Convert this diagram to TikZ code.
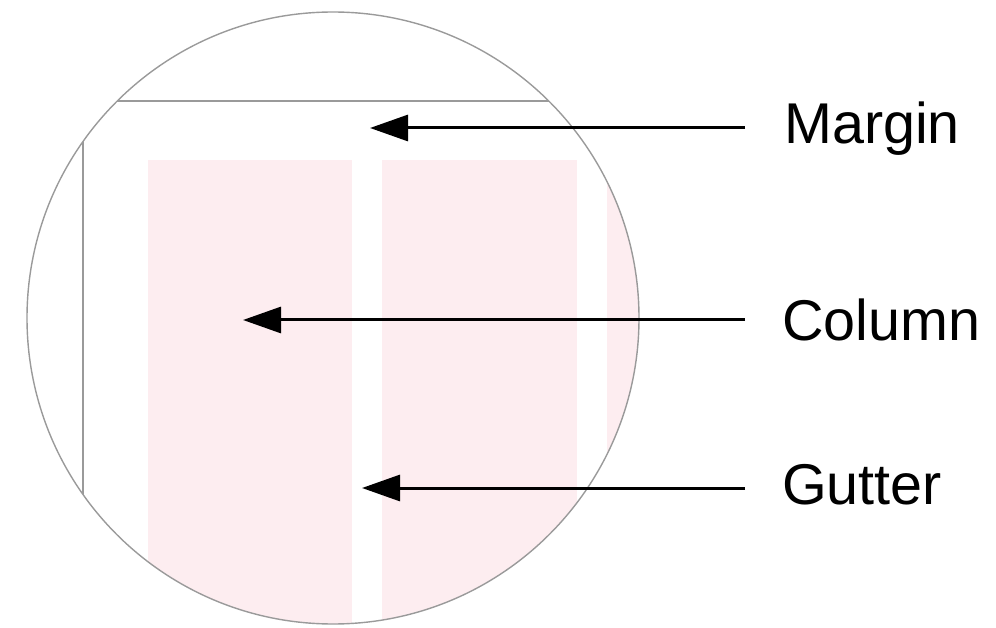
\documentclass[tikz,border=0pt]{standalone}
\usepackage{fontspec}
\setmainfont{Liberation Sans}
\usetikzlibrary{arrows.meta}
\definecolor{colpink}{HTML}{FDEDF0}
\definecolor{ringgray}{HTML}{9A9A9A}
\begin{document}
\begin{tikzpicture}[x=1pt,y=-1pt,
  ring/.style={draw=ringgray,line width=1.4pt},
  pageline/.style={draw=ringgray,line width=2pt},
  pointer/.style={draw=black,line width=3pt,-{Triangle[length=38pt,width=26pt]}},
  lbl/.style={anchor=base west,inner sep=0pt,font=\fontsize{57.5}{60}\selectfont}]
\useasboundingbox (0,0) rectangle (996,628);
\coordinate (c) at (333,318);
\begin{scope}
  \clip (c) circle [radius=306];
  \fill[colpink] (148,160) rectangle (352,640);
  \fill[colpink] (382,160) rectangle (577,640);
  \fill[colpink] (607,160) rectangle (660,640);
  \draw[pageline] (83,640) -- (83,101) -- (660,101);
\end{scope}
\draw[ring] (c) circle [radius=306];
\node[lbl] (margin) at (784,144) {Margin};
\node[lbl] (column) at (782,341) {Column};
\node[lbl] (gutter) at (782,504) {Gutter};
\coordinate (mtail) at (745,128);
\coordinate (mtip) at (370,128);
\coordinate (ctail) at (745,320);
\coordinate (ctip) at (243,320);
\coordinate (gtail) at (745,488);
\coordinate (gtip) at (362,488);
\draw[pointer] (mtail) -- (mtip);
\draw[pointer] (ctail) -- (ctip);
\draw[pointer] (gtail) -- (gtip);
\end{tikzpicture}
\end{document}
